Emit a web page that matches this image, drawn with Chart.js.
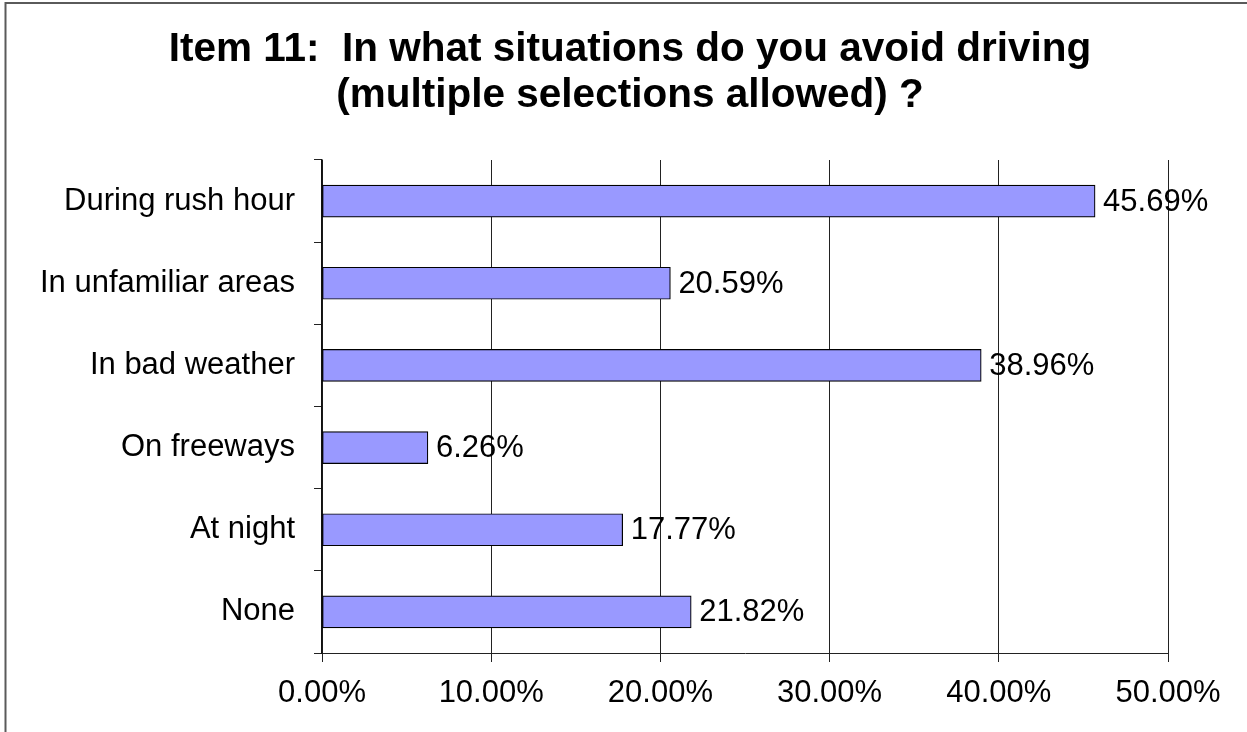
<!DOCTYPE html>
<html>
<head>
<meta charset="utf-8">
<script src="https://cdn.jsdelivr.net/npm/chart.js@4.4.1/dist/chart.umd.min.js"></script>
<style>
  html, body { margin: 0; padding: 0; background: #ffffff; }
  #wrap { position: relative; width: 1247px; height: 732px; }
</style>
</head>
<body>
<div id="wrap"><canvas id="c" width="1247" height="732"></canvas></div>
<script>
const titleLines = ["Item 11:  In what situations do you avoid driving", "(multiple selections allowed) ?"];
const categories = ["During rush hour", "In unfamiliar areas", "In bad weather", "On freeways", "At night", "None"];
const values = [45.69, 20.59, 38.96, 6.26, 17.77, 21.82];
const xTicks = [0, 10, 20, 30, 40, 50];

const FONT = "'Liberation Sans', Arial, sans-serif";

const framePlugin = {
  id: 'frame',
  beforeDraw(chart) {
    const ctx = chart.ctx;
    ctx.save();
    ctx.fillStyle = '#ffffff';
    ctx.fillRect(0, 0, chart.width, chart.height);
    ctx.strokeStyle = '#5a5a5a';
    ctx.lineWidth = 2;
    ctx.beginPath();
    ctx.moveTo(5.5, chart.height);
    ctx.lineTo(5.5, 3);
    ctx.lineTo(chart.width, 3);
    ctx.stroke();
    ctx.fillStyle = '#000000';
    ctx.font = 'bold 40.5px ' + FONT;
    ctx.textAlign = 'center';
    ctx.textBaseline = 'alphabetic';
    ctx.fillText(titleLines[0], 630, 61);
    ctx.fillText(titleLines[1], 630, 107);
    ctx.restore();
  }
};

const valueLabelPlugin = {
  id: 'valueLabels',
  beforeDatasetsDraw(chart) {
    const ctx = chart.ctx;
    const meta = chart.getDatasetMeta(0);
    ctx.save();
    ctx.fillStyle = '#000000';
    ctx.font = '31px ' + FONT;
    ctx.textAlign = 'left';
    ctx.textBaseline = 'middle';
    meta.data.forEach((bar, i) => {
      ctx.fillText(values[i].toFixed(2) + '%', bar.x + 8, bar.y + 1);
    });
    ctx.restore();
  }
};

new Chart(document.getElementById('c'), {
  type: 'bar',
  data: {
    labels: categories,
    datasets: [{
      data: values,
      backgroundColor: '#9999ff',
      borderColor: '#000000',
      borderWidth: 1.2,
      borderSkipped: false,
      barThickness: 32
    }]
  },
  options: {
    indexAxis: 'y',
    responsive: false,
    animation: false,
    devicePixelRatio: 1,
    layout: { padding: { top: 160, right: 79, bottom: 0, left: 0 } },
    plugins: {
      legend: { display: false },
      title: { display: false },
      tooltip: { enabled: false }
    },
    scales: {
      x: {
        min: 0,
        max: 50,
        afterBuildTicks(scale) { scale.ticks = xTicks.map(v => ({ value: v })); },
        afterFit(scale) { scale.height = 79; },
        grid: { color: '#222222', lineWidth: 1, tickLength: 9, drawTicks: true },
        border: { display: true, color: '#222222', width: 1 },
        ticks: {
          color: '#000000',
          font: { family: FONT, size: 31 },
          padding: 13,
          maxRotation: 0,
          autoSkip: false,
          callback: (v) => Number(v).toFixed(2) + '%'
        }
      },
      y: {
        afterFit(scale) { scale.width = 322; },
        grid: { drawOnChartArea: false, drawTicks: true, tickLength: 8, color: '#222222', offset: true },
        border: { display: true, color: '#111111', width: 1.5 },
        ticks: {
          color: '#000000',
          font: { family: FONT, size: 31 },
          padding: 19,
          autoSkip: false
        }
      }
    }
  },
  plugins: [framePlugin, valueLabelPlugin]
});
</script>
</body>
</html>
